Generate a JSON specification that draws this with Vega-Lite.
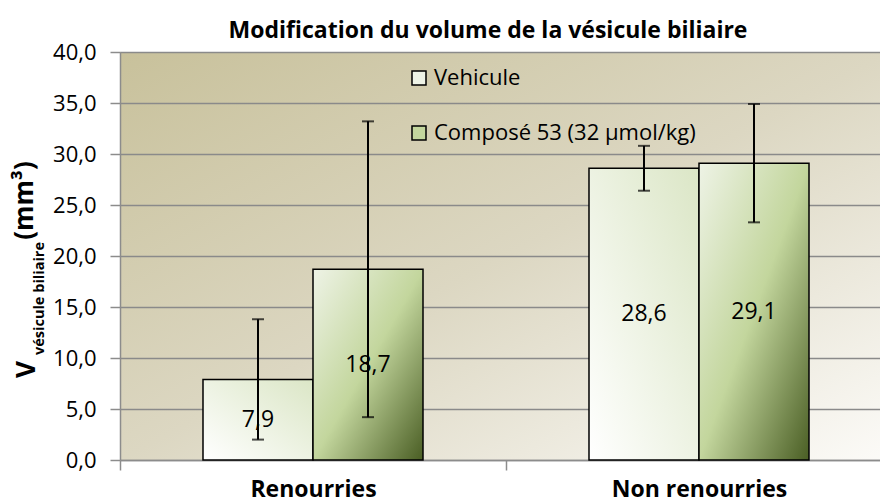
{
  "$schema": "https://vega.github.io/schema/vega-lite/v6.json",
  "autosize": "none",
  "width": 772,
  "height": 408,
  "padding": {"left": 120, "top": 52, "right": 0, "bottom": 44},
  "background": "#ffffff",
  "config": {
    "locale": {"number": {"decimal": ",", "thousands": " ", "grouping": [3], "currency": ["", " €"]}},
    "font": "Open Sans",
    "view": {
      "stroke": null,
      "fill": {"gradient": "linear", "x1": 0, "y1": 0, "x2": 1, "y2": 1,
        "stops": [{"offset": 0, "color": "#c8c19b"}, {"offset": 0.5, "color": "#dcd7c2"}, {"offset": 1, "color": "#fcfbf8"}]}
    }
  },
  "title": {
    "text": "Modification du volume de la vésicule biliaire",
    "font": "Open Sans", "fontSize": 23, "fontWeight": "bold", "color": "#000000",
    "anchor": "middle", "dx": -18, "offset": -2
  },
  "data": {
    "values": [
      {"groupe": "Renourries", "traitement": "Vehicule", "valeur": 7.9, "bas": 2.0, "haut": 13.8},
      {"groupe": "Renourries", "traitement": "Composé 53 (32 µmol/kg)", "valeur": 18.7, "bas": 4.2, "haut": 33.2},
      {"groupe": "Non renourries", "traitement": "Vehicule", "valeur": 28.6, "bas": 26.4, "haut": 30.8},
      {"groupe": "Non renourries", "traitement": "Composé 53 (32 µmol/kg)", "valeur": 29.1, "bas": 23.3, "haut": 34.9}
    ]
  },
  "encoding": {
    "x": {
      "field": "groupe", "type": "nominal", "sort": ["Renourries", "Non renourries"],
      "scale": {"paddingInner": 0, "paddingOuter": 0},
      "axis": {
        "title": null, "labelAngle": 0, "labelFont": "Open Sans", "labelFontSize": 23, "labelFontWeight": "bold",
        "labelColor": "#000000", "labelPadding": 8, "tickBand": "extent", "tickSize": 10, "tickColor": "#8c8c8c",
        "tickWidth": 1.5, "domainColor": "#8c8c8c", "domainWidth": 1.5
      }
    },
    "xOffset": {
      "field": "traitement", "type": "nominal", "sort": ["Vehicule", "Composé 53 (32 µmol/kg)"],
      "scale": {"paddingInner": 0, "paddingOuter": 0.7545}
    }
  },
  "resolve": {"axis": {"y": "independent"}},
  "layer": [
    {
      "mark": {"type": "bar", "opacity": 0},
      "encoding": {
        "y": {
          "field": "valeur", "type": "quantitative",
          "scale": {"domain": [0, 40]},
          "axis": {
            "orient": "left",
            "title": "V", "titleFont": "Open Sans", "titleFontSize": 26, "titleFontWeight": "bold",
            "titleColor": "#000000", "titleX": -86, "titleY": 317, "titleAngle": -90,
            "titleAlign": "center", "titleBaseline": "alphabetic",
            "values": [0, 5, 10, 15, 20, 25, 30, 35, 40], "format": ".1f",
            "labelFont": "Open Sans", "labelFontSize": 22, "labelColor": "#000000", "labelPadding": 14,
            "tickSize": 10, "tickColor": "#8c8c8c", "tickWidth": 1.5, "domainColor": "#8c8c8c", "domainWidth": 1.5,
            "gridColor": "#8a8a8a", "gridWidth": 1.5
          }
        },
        "fill": {
          "field": "traitement", "type": "nominal", "sort": ["Vehicule", "Composé 53 (32 µmol/kg)"],
          "scale": {"range": ["#eef3e6", "#c3d69d"]},
          "legend": {
            "title": null, "orient": "none", "legendX": 288, "legendY": 15,
            "symbolType": "square", "symbolSize": 196, "symbolStrokeColor": "#000000", "symbolStrokeWidth": 1.5,
            "symbolOpacity": 1,
            "labelFont": "Open Sans", "labelFontSize": 22, "labelColor": "#000000", "labelOffset": 4,
            "labelLimit": 0, "rowPadding": 33,
            "encode": {
              "symbols": {
                "update": {
                  "opacity": {"value": 1},
                  "fillOpacity": {"value": 1},
                  "stroke": {"value": "#000000"},
                  "fill": {"signal": "datum.value === 'Vehicule' ? {gradient: 'linear', x1: 0, y1: 1, x2: 1, y2: 0, stops: [{offset: 0, color: '#ffffff'}, {offset: 1, color: '#dbe6c6'}]} : {gradient: 'linear', x1: 0, y1: 0, x2: 1, y2: 1, stops: [{offset: 0, color: '#eef3e6'}, {offset: 0.5, color: '#c3d69d'}, {offset: 1, color: '#4a5e24'}]}"}
                }
              }
            }
          }
        }
      }
    },
    {
      "transform": [{"filter": "datum.traitement === 'Vehicule'"}],
      "mark": {"type": "bar", "stroke": "#000000", "strokeWidth": 1.5,
        "fill": {"gradient": "linear", "x1": 0, "y1": 1, "x2": 1, "y2": 0,
          "stops": [{"offset": 0, "color": "#ffffff"}, {"offset": 1, "color": "#dbe6c6"}]}},
      "encoding": {
        "y": {
          "field": "valeur", "type": "quantitative",
          "axis": {
            "orient": "left", "labels": false, "ticks": false, "domain": false, "grid": false,
            "title": "vésicule biliaire", "titleFont": "Open Sans", "titleFontSize": 14.5, "titleFontWeight": "bold",
            "titleColor": "#000000", "titleX": -77, "titleY": 246, "titleAngle": -90,
            "titleAlign": "center", "titleBaseline": "alphabetic"
          }
        }
      }
    },
    {
      "transform": [{"filter": "datum.traitement !== 'Vehicule'"}],
      "mark": {"type": "bar", "stroke": "#000000", "strokeWidth": 1.5,
        "fill": {"gradient": "linear", "x1": 0, "y1": 0, "x2": 1, "y2": 1,
          "stops": [{"offset": 0, "color": "#eef3e6"}, {"offset": 0.5, "color": "#c3d69d"}, {"offset": 1, "color": "#4a5e24"}]}},
      "encoding": {
        "y": {
          "field": "valeur", "type": "quantitative",
          "axis": {
            "orient": "left", "labels": false, "ticks": false, "domain": false, "grid": false,
            "title": "(mm³)", "titleFont": "Open Sans", "titleFontSize": 26, "titleFontWeight": "bold",
            "titleColor": "#000000", "titleX": -88, "titleY": 148, "titleAngle": -90,
            "titleAlign": "center", "titleBaseline": "alphabetic"
          }
        }
      }
    },
    {
      "mark": {"type": "rule", "color": "#000000", "strokeWidth": 2},
      "encoding": {
        "y": {"field": "bas", "type": "quantitative", "axis": null},
        "y2": {"field": "haut"}
      }
    },
    {
      "mark": {"type": "tick", "color": "#000000", "thickness": 2, "size": 12},
      "encoding": {"y": {"field": "bas", "type": "quantitative", "axis": null}}
    },
    {
      "mark": {"type": "tick", "color": "#000000", "thickness": 2, "size": 12},
      "encoding": {"y": {"field": "haut", "type": "quantitative", "axis": null}}
    },
    {
      "transform": [{"calculate": "datum.valeur / 2", "as": "milieu"}],
      "mark": {"type": "text", "font": "Open Sans", "fontSize": 23, "color": "#000000", "baseline": "middle"},
      "encoding": {
        "y": {"field": "milieu", "type": "quantitative", "axis": null},
        "text": {"field": "valeur", "type": "quantitative", "format": ".1f"}
      }
    }
  ]
}
